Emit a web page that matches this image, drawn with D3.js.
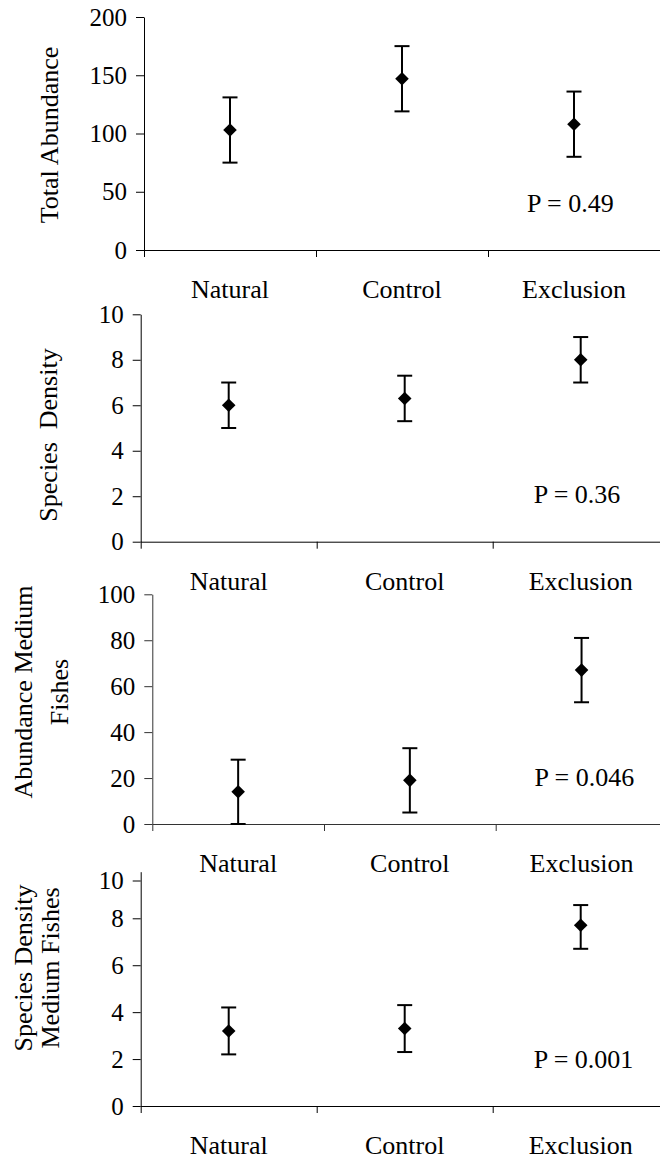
<!DOCTYPE html>
<html>
<head>
<meta charset="utf-8">
<script src="https://cdn.jsdelivr.net/npm/d3@7"></script>
<style>
  body { margin: 0; background: #fff; }
  svg text { font-family: 'Liberation Serif', 'Times New Roman', Times, 'DejaVu Serif', serif !important; fill: #000; }
</style>
</head>
<body>
<div id="chart"></div>
<script>
// data
var categories = ['Natural', 'Control', 'Exclusion'];

var totalAbundance = [103, 147, 108];
var totalAbundanceErr = [28, 28, 28];

var speciesDensity = [6.0, 6.3, 8.0];
var speciesDensityErr = [1, 1, 1];

var mediumAbundance = [14, 19, 67];
var mediumAbundanceErr = [14, 14, 14];

var mediumDensity = [3.2, 3.3, 7.7];
var mediumDensityErr = [1, 1, 1];

var pLabels = ['P = 0.49', 'P = 0.36', 'P = 0.046', 'P = 0.001'];

var ticksTotal = [0, 50, 100, 150, 200];
var ticksDensity = [0, 2, 4, 6, 8, 10];
var ticksMedium = [0, 20, 40, 60, 80, 100];

var serif = "'Liberation Serif', 'Times New Roman', Times, 'DejaVu Serif', serif";

var dim = { 'width': 660, 'height': 1159 };
var svg = d3.select('#chart').append('svg')
    .attr('width', dim.width)
    .attr('height', dim.height)
    .attr('font-family', serif);

// layout of each panel (pixel positions measured on the reference)
var panels = [
    { values: totalAbundance, errs: totalAbundanceErr, ticks: ticksTotal, p: pLabels[0],
      left: 144, band: 172, dom: [0, 200], rng: [250, 17],
      title: ['Total Abundance'], tx: [58], ty: 135, color: '#000' },
    { values: speciesDensity, errs: speciesDensityErr, ticks: ticksDensity, p: pLabels[1],
      left: 140.7, band: 176, dom: [0, 10], rng: [541.7, 314.3],
      title: ['Species\u00a0\u00a0Density'], tx: [57], ty: 435, color: '#000' },
    { values: mediumAbundance, errs: mediumAbundanceErr, ticks: ticksMedium, p: pLabels[2],
      left: 152.3, band: 171.7, dom: [0, 100], rng: [824, 594.3],
      title: ['Abundance Medium', 'Fishes'], tx: [32, 68], ty: 692, color: '#333' },
    { values: mediumDensity, errs: mediumDensityErr, ticks: ticksDensity, p: pLabels[3],
      left: 140.7, band: 176, dom: [0, 8, 10, 10.2], rng: [1106, 918.3, 880.5, 871.7],
      title: ['Species Density', 'Medium Fishes'], tx: [32, 59], ty: 968, color: '#000' }
];

var diamond = d3.symbol().type(d3.symbolSquare).size(92);

panels.forEach(function (pn) {
    var g = svg.append('g');

    var x = d3.scaleLinear()
        .domain([0, 3])
        .range([pn.left, pn.left + 3 * pn.band]);
    var y = d3.scaleLinear()
        .domain(pn.dom)
        .range(pn.rng);
    var y0 = y(0);

    // x axis with ticks at the category boundaries
    var xa = g.append('g')
        .attr('transform', 'translate(0,' + y0 + ')')
        .call(d3.axisBottom(x).tickValues([0, 1, 2]).tickFormat('').tickSizeInner(7).tickSizeOuter(0));
    xa.selectAll('path, line').attr('stroke', pn.color);

    // y axis
    var ya = g.append('g')
        .attr('transform', 'translate(' + pn.left + ',0)')
        .call(d3.axisLeft(y).tickValues(pn.ticks).tickSizeInner(8).tickSizeOuter(0).tickPadding(9));
    ya.attr('font-family', serif).attr('font-size', 25);
    ya.selectAll('path, line').attr('stroke', pn.color);
    ya.selectAll('text').attr('fill', '#000');

    // category labels
    g.selectAll('.cat')
        .data(categories)
        .enter().append('text')
        .attr('x', function (d, i) { return x(i + 0.5); })
        .attr('y', y0 + 48)
        .attr('text-anchor', 'middle')
        .attr('font-size', 26)
        .text(function (d) { return d; });

    // error bars
    var bars = g.selectAll('.err')
        .data(pn.values)
        .enter().append('g');
    bars.append('line')
        .attr('x1', function (d, i) { return x(i + 0.5); })
        .attr('x2', function (d, i) { return x(i + 0.5); })
        .attr('y1', function (d, i) { return y(d - pn.errs[i]); })
        .attr('y2', function (d, i) { return y(d + pn.errs[i]); })
        .attr('stroke', '#000').attr('stroke-width', 2);
    [-1, 1].forEach(function (s) {
        bars.append('line')
            .attr('x1', function (d, i) { return x(i + 0.5) - 7.5; })
            .attr('x2', function (d, i) { return x(i + 0.5) + 7.5; })
            .attr('y1', function (d, i) { return y(d + s * pn.errs[i]); })
            .attr('y2', function (d, i) { return y(d + s * pn.errs[i]); })
            .attr('stroke', '#000').attr('stroke-width', 2);
    });

    // diamond markers
    g.selectAll('.pt')
        .data(pn.values)
        .enter().append('path')
        .attr('d', diamond)
        .attr('transform', function (d, i) {
            return 'translate(' + x(i + 0.5) + ',' + y(d) + ') rotate(45)';
        })
        .attr('fill', '#000');

    // P value
    g.append('text')
        .attr('x', pn.left + 2.5 * pn.band - 47)
        .attr('y', y0 - 38.5)
        .attr('font-size', 26)
        .text(pn.p);

    // y title
    pn.title.forEach(function (t, k) {
        g.append('text')
            .attr('transform', 'translate(' + pn.tx[k] + ',' + pn.ty + ') rotate(-90)')
            .attr('text-anchor', 'middle')
            .attr('font-size', 26)
            .text(t);
    });
});
</script>
</body>
</html>
